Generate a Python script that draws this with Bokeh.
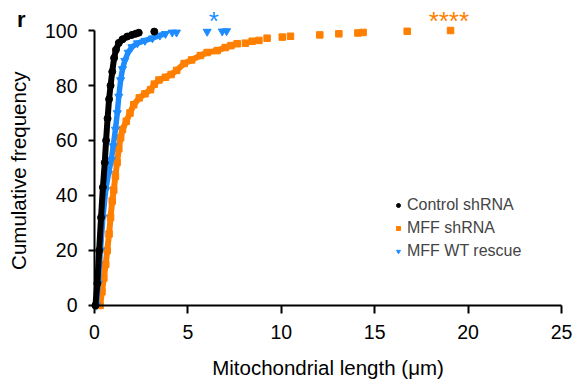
import math
from bokeh.plotting import figure
from bokeh.models import Range1d, Label, Legend, LegendItem, FixedTicker
from bokeh.embed import file_html
from bokeh.resources import INLINE

# Control shRNA
ctrl_len = [0.05, 0.15, 0.25, 0.35, 0.45, 0.55, 0.62, 0.70, 0.78, 0.86, 0.95, 1.05, 1.15, 1.30, 1.50, 1.75, 2.00, 2.20, 2.37, 3.20]
ctrl_cum = [0, 8, 20, 32, 43, 52, 60, 68, 75, 80, 85, 90, 93, 95.5, 96.8, 97.8, 98.4, 98.8, 99.2, 99.6]
ctrl_dense = 19

# MFF shRNA
mff_len = [0.30, 0.40, 0.50, 0.60, 0.68, 0.78, 0.86, 0.95, 1.03, 1.12, 1.21, 1.30, 1.40, 1.50, 1.70, 1.90, 2.10, 2.40, 2.70, 3.00, 3.20, 3.45, 3.80, 4.10, 4.40, 4.80, 5.20, 5.67, 6.03, 6.57, 7.00, 7.30, 7.64,
           8.08, 8.44, 8.80, 9.24, 10.05, 10.49, 12.06, 13.08, 14.10, 14.38, 16.74, 19.06]
mff_cum = [0, 5, 10, 15, 20, 26, 32, 38, 42, 47, 52, 57, 61, 64, 67, 70, 73, 75.5, 77, 78.5, 80.5, 82, 83, 84, 85.5, 88, 89.3, 90.9, 92, 92.7, 93.8, 94.5, 95.2,
           95.4, 96.1, 96.4, 97.2, 97.6, 97.9, 98.4, 98.8, 99.1, 99.3, 99.7, 100]
mff_dense = 33

# MFF WT rescue
wt_len = [0.10, 0.20, 0.32, 0.45, 0.60, 0.75, 0.90, 1.00, 1.12, 1.22, 1.30, 1.40, 1.50, 1.62, 1.80, 2.00, 2.30, 2.70, 3.10, 3.50, 3.80,
          4.16, 4.39, 6.03, 6.84, 7.07]
wt_cum = [0, 8, 20, 32, 42, 48, 53, 58, 64, 70, 76, 82, 86, 89, 92, 94, 95.4, 96.3, 97.2, 98.2, 98.8,
          99.3, 99.3, 99.6, 99.7, 99.8]
wt_dense = 21

x_ticks = [0, 5, 10, 15, 20, 25]
y_ticks = [0, 20, 40, 60, 80, 100]
x_title = "Mitochondrial length (\u03bcm)"
y_title = "Cumulative frequency"

BLACK = "#000000"
ORANGE = "#FF7F00"
BLUE = "#1E8CFF"
FONT = "Liberation Sans"

# the frame covers the whole canvas so nothing is clipped; both axes are pinned at 0
p = figure(width=573, height=384, output_backend="svg", toolbar_location=None,
           x_range=Range1d(-5.032, 25.642), y_range=Range1d(-28.73, 110.91),
           min_border_left=0, min_border_right=0, min_border_top=0, min_border_bottom=0)
p.outline_line_color = None
p.grid.visible = False
p.background_fill_color = "white"

# draw order: orange, blue, black
p.line(mff_len[:mff_dense], mff_cum[:mff_dense], line_color=ORANGE, line_width=6)
r_mff = p.scatter(mff_len, mff_cum, marker="square", size=6.5, fill_color=ORANGE, line_color=ORANGE)
p.line(wt_len[:wt_dense], wt_cum[:wt_dense], line_color=BLUE, line_width=5.5)
r_wt = p.scatter(wt_len, wt_cum, marker="inverted_triangle", size=8, fill_color=BLUE, line_color=BLUE)
p.line(ctrl_len[:ctrl_dense], ctrl_cum[:ctrl_dense], line_color=BLACK, line_width=6)
r_ctrl = p.scatter(ctrl_len, ctrl_cum, marker="circle", size=7, fill_color=BLACK, line_color=BLACK)

for ax in (p.xaxis[0], p.yaxis[0]):
    ax.fixed_location = 0
    ax.axis_line_width = 2
    ax.major_tick_line_width = 2
    ax.major_tick_in = 0
    ax.minor_tick_line_color = None
    ax.major_label_text_font = FONT
    ax.major_label_text_font_size = "19.5px"
    ax.major_label_text_color = "black"

p.xaxis.ticker = FixedTicker(ticks=x_ticks)
p.yaxis.ticker = FixedTicker(ticks=y_ticks)
p.xaxis.bounds = (0, 25)
p.yaxis.bounds = (0, 100)
p.xaxis.major_tick_out = 8
p.yaxis.major_tick_out = 6
p.xaxis.major_label_standoff = 12
p.yaxis.major_label_standoff = 11

# axis titles
p.add_layout(Label(x=12.5, y=-22.6, text=x_title, text_color="black", text_font=FONT,
                   text_font_size="20.5px", text_align="center", text_baseline="alphabetic"))
p.add_layout(Label(x=-4.05, y=49, text=y_title, text_color="black", text_font=FONT, angle=math.pi / 2,
                   text_font_size="20.5px", text_align="center", text_baseline="alphabetic"))

# significance marks and panel letter
p.add_layout(Label(x=6.39, y=103.3, text="*", text_color=BLUE, text_font=FONT, text_font_size="26px",
                   text_align="center", text_baseline="alphabetic"))
p.add_layout(Label(x=18.97, y=103.5, text="****", text_color=ORANGE, text_font=FONT, text_font_size="26px",
                   text_align="center", text_baseline="alphabetic"))
p.add_layout(Label(x=-4.15, y=103.9, text="r", text_color="black",
                   text_font=FONT, text_font_size="22px", text_font_style="bold",
                   text_align="left", text_baseline="alphabetic"))

legend = Legend(items=[LegendItem(label="Control shRNA", renderers=[r_ctrl]),
                       LegendItem(label="MFF shRNA", renderers=[r_mff]),
                       LegendItem(label="MFF WT rescue", renderers=[r_wt])],
                location=(393, 123), border_line_color=None, background_fill_alpha=0,
                glyph_width=10, glyph_height=20, label_height=20, spacing=3, padding=0, margin=0,
                label_standoff=4, label_text_font=FONT, label_text_font_size="16px")
p.add_layout(legend, "center")

open("out.html", "w").write(file_html(p, INLINE))
